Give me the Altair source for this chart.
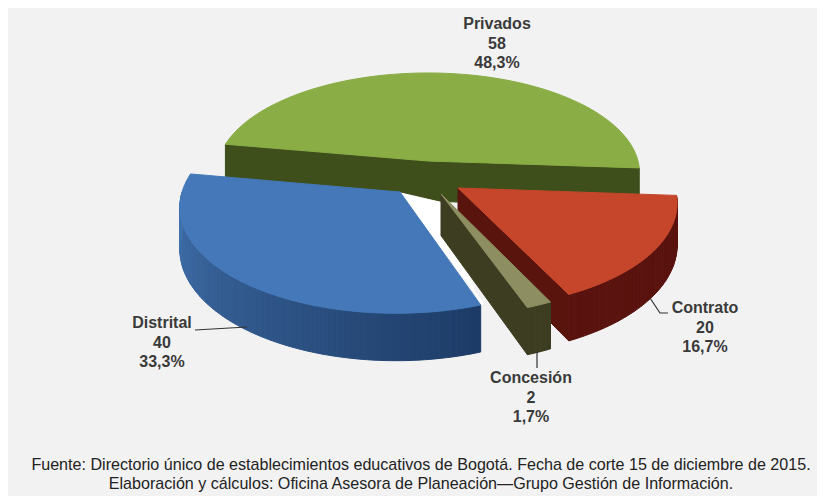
import math
import altair as alt
import pandas as pd

categories = ["Contrato", "Concesión", "Distrital", "Privados"]
values = [20, 2, 40, 58]
percent_labels = ["16,7%", "1,7%", "33,3%", "48,3%"]
footer_lines = [
    "Fuente: Directorio único de establecimientos educativos de Bogotá. Fecha de corte 15 de diciembre de 2015.",
    "Elaboración y cálculos: Oficina Asesora de Planeación—Grupo Gestión de Información.",
]

# ---- layout / view of the 3D pie (page pixels) ----
W, H = 809, 488
OFF = 8
CX, CY, RX, RY, PERSP, DEPTH = 428, 161, 210, 98.6, 0.12, 40
START = 94
APEX = {"Contrato": (458, 188), "Concesión": (441, 194), "Distrital": (400, 192), "Privados": (428, 161)}
TOP = {"Contrato": "#c6462b", "Concesión": "#8d8e62", "Distrital": "#4478b8", "Privados": "#8aad45"}
SIDE = {"Contrato": "#5a140e", "Concesión": "#3d3d22", "Distrital": "#2d5488", "Privados": "#3f4f1c"}
RIM_A = {"Contrato": "#5a130e", "Concesión": "#3d3d22", "Distrital": "#4272ad", "Privados": "#3f4f1c"}
RIM_B = {"Contrato": "#5a130e", "Concesión": "#3d3d22", "Distrital": "#1d3b66", "Privados": "#3f4f1c"}


def screen(X, Y, z=0.0):
    s = 1 / (1 - PERSP * Y)
    return [CX + X * s * RX - OFF, CY + Y * s * RY + z * DEPTH * s - OFF]


def ground_offset(ax, ay):
    d = ay - CY
    Y = d / (RY + PERSP * d)
    s = 1 / (1 - PERSP * Y)
    return (ax - CX) / (s * RX), Y


def rim(th, ox, oy, z=0.0):
    r = math.radians(th)
    return screen(ox + math.sin(r), oy - math.cos(r), z)


def mix(a, b, t):
    ca = [int(a[i:i + 2], 16) for i in (1, 3, 5)]
    cb = [int(b[i:i + 2], 16) for i in (1, 3, 5)]
    return "#%02x%02x%02x" % tuple(round(p + (q - p) * t) for p, q in zip(ca, cb))


total = sum(values)
features = []


def add(coords, color):
    ring = coords + [coords[0]]
    features.append({"type": "Feature", "properties": {"color": color, "n": len(features)},
                     "geometry": {"type": "Polygon", "coordinates": [ring]}})


spans = {}
a = START
for c, v in zip(categories, values):
    spans[c] = (a, a + v / total * 360)
    a = spans[c][1]

b0, b1 = spans["Distrital"]
bx, by = ground_offset(*APEX["Distrital"])
cx_, cy_ = ground_offset(*APEX["Concesión"])


def draw(c):
    t0, t1 = spans[c]
    ox, oy = ground_offset(*APEX[c])
    apex_top = screen(ox, oy)
    apex_bot = screen(ox, oy, 1)
    r0, r1 = max(t0, 90), min(t1, 270)
    if c == "Privados":
        r0, r1 = 0, 0
    n = max(2, int((r1 - r0)))
    if r1 > r0:
        for i in range(n):
            p, q = r0 + (r1 - r0) * i / n, r0 + (r1 - r0) * (i + 1) / n
            col = mix(RIM_A[c], RIM_B[c], (270 - q) / (270 - 160) if c == "Distrital" else i / n)
            add([rim(p, ox, oy), rim(q, ox, oy), rim(q, ox, oy, 1), rim(p, ox, oy, 1)], col)
    if c == "Privados":
        for th in (t0, t1):
            add([apex_top, rim(th, ox, oy), rim(th, ox, oy, 1), apex_bot], SIDE[c])
    elif c in ("Contrato", "Concesión"):
        add([apex_top, rim(t1, ox, oy), rim(t1, ox, oy, 1), apex_bot], SIDE[c])
    steps = max(2, int((t1 - t0) / 2))
    arc = [rim(t0 + (t1 - t0) * i / steps, ox, oy) for i in range(steps + 1)]
    add([apex_top] + arc, TOP[c])


draw("Privados")
add([screen(bx, by, 0.02), screen(cx_, cy_, 0.2), rim(b0, bx, by, 0.05), rim(b0, bx + 0.012, by - 0.012)], "#ffffff")
draw("Contrato")
draw("Concesión")
draw("Distrital")

slices = alt.Chart(alt.Data(values=features)).mark_geoshape(strokeWidth=1).encode(
    fill=alt.Fill("properties.color:N", scale=None),
    stroke=alt.Stroke("properties.color:N", scale=None),
    order=alt.Order("properties.n:Q"),
).project(type="identity", scale=1, translate=[0, 0])

leaders = pd.DataFrame([
    {"k": "Distrital", "i": 0, "x": 195, "y": 330}, {"k": "Distrital", "i": 1, "x": 247, "y": 327},
    {"k": "Contrato", "i": 0, "x": 650, "y": 298}, {"k": "Contrato", "i": 1, "x": 660, "y": 313},
    {"k": "Contrato", "i": 2, "x": 668, "y": 313},
    {"k": "Concesión", "i": 0, "x": 537, "y": 352}, {"k": "Concesión", "i": 1, "x": 537, "y": 368},
])
leaders["x"] -= OFF
leaders["y"] -= OFF
leader_lines = alt.Chart(leaders).mark_line(color="#333333", strokeWidth=1.2).encode(
    x=alt.X("x:Q", scale=None, axis=None),
    y=alt.Y("y:Q", scale=None, axis=None),
    detail="k:N",
    order="i:Q",
)

label_pos = {"Privados": (497, 24), "Distrital": (162, 323), "Concesión": (531, 378), "Contrato": (705, 308)}
rows = []
for c, v, p in zip(categories, values, percent_labels):
    lx, ly = label_pos[c]
    for i, t in enumerate([c, str(v), p]):
        rows.append({"t": t, "x": lx - OFF, "y": ly + i * 19.5 - OFF})
labels = alt.Chart(pd.DataFrame(rows)).mark_text(
    font="Liberation Sans", fontWeight="bold", fontSize=16, color="#3a3a3a", baseline="middle", align="center"
).encode(
    x=alt.X("x:Q", scale=None, axis=None),
    y=alt.Y("y:Q", scale=None, axis=None),
    text="t:N",
)

foot = pd.DataFrame([
    {"t": footer_lines[0], "x": 421 - OFF, "y": 465 - OFF},
    {"t": footer_lines[1], "x": 421 - OFF, "y": 484 - OFF},
])
footer = alt.Chart(foot).mark_text(
    font="Liberation Sans", fontSize=16.1, color="#222222", baseline="middle", align="center"
).encode(
    x=alt.X("x:Q", scale=None, axis=None),
    y=alt.Y("y:Q", scale=None, axis=None),
    text="t:N",
)

chart = alt.layer(slices, leader_lines, labels, footer).properties(
    width=W, height=H, padding=0, background="#f2f2f2"
).configure_view(stroke=None)

chart.save("out.html", embed_options={"renderer": "svg", "actions": False})
